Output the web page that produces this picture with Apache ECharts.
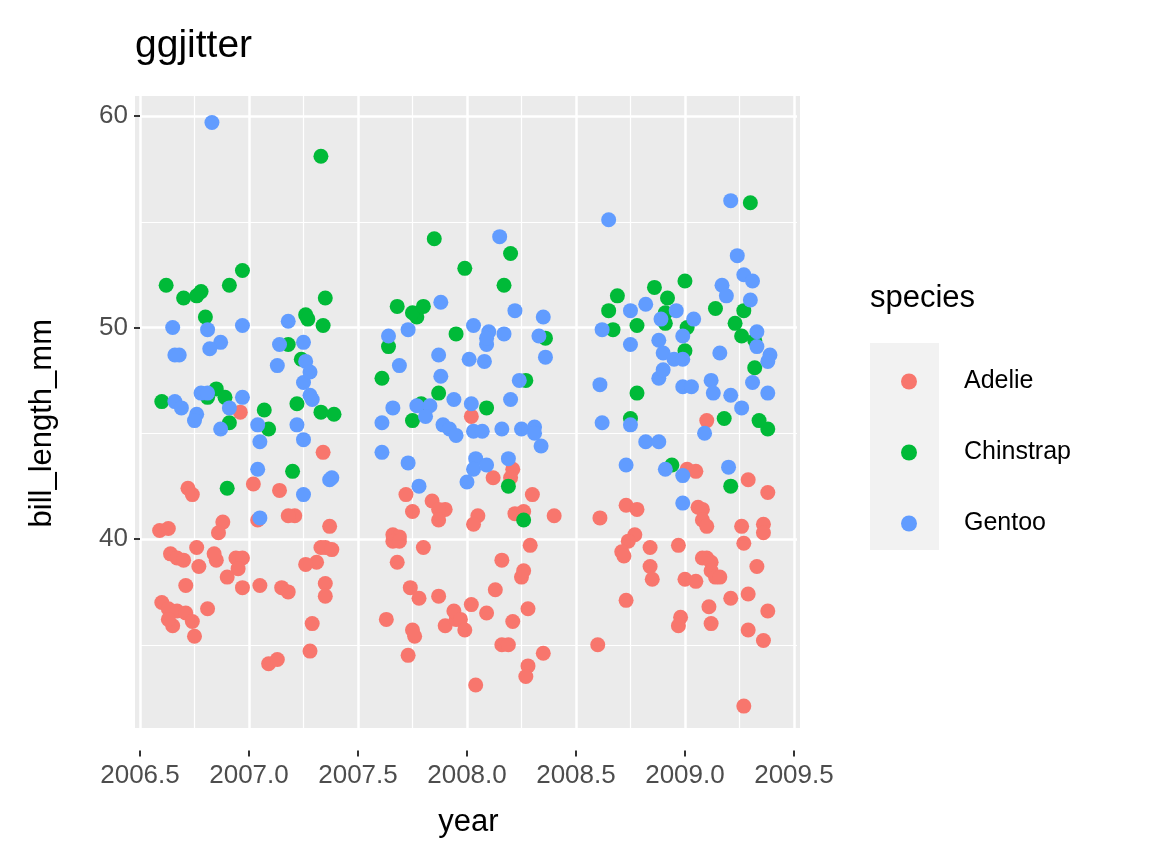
<!DOCTYPE html>
<html><head><meta charset="utf-8">
<script src="https://cdn.jsdelivr.net/npm/echarts@6/dist/echarts.min.js"></script>
<style>html,body{margin:0;background:#fff}#c{width:1152px;height:864px}</style>
</head><body><div id="c"></div>
<script>
const species = ["Adelie", "Chinstrap", "Gentoo"];
const colors = ["#F8766D", "#00BA38", "#619CFF"];
const xTicks = [2006.5, 2007.0, 2007.5, 2008.0, 2008.5, 2009.0, 2009.5];
const yTicks = [40, 50, 60];

const adelie = [
[2007.34,44.1],[2006.72,42.4],[2006.74,42.1],[2007.02,42.6],[2007.14,42.3],[2006.59,40.4],[2006.63,40.5],
[2007.04,40.9],[2006.88,40.8],[2006.86,40.3],[2006.96,46.0],[2007.37,40.6],[2006.64,39.3],[2006.67,39.1],
[2006.76,39.6],[2006.70,39.0],[2006.85,39.0],[2006.84,39.3],[2006.94,39.1],[2006.97,39.1],[2006.77,38.7],
[2006.95,38.6],[2006.90,38.2],[2006.97,37.7],[2007.05,37.8],[2007.15,37.7],[2007.18,37.5],[2007.33,39.6],
[2007.35,39.6],[2007.38,39.5],[2007.31,38.9],[2007.35,37.9],[2007.35,37.3],[2006.71,37.8],[2006.60,37.0],
[2006.63,36.7],[2006.67,36.6],[2006.71,36.5],[2006.81,36.7],[2006.74,36.1],[2006.75,35.4],[2006.65,35.9],
[2006.63,36.2],[2007.29,36.0],[2007.28,34.7],[2007.09,34.1],[2007.13,34.3],[2007.21,41.1],[2007.18,41.1],
[2007.26,38.8],
[2008.02,45.8],[2008.21,43.3],[2008.20,42.9],[2008.12,42.9],[2008.30,42.1],[2008.40,41.1],[2008.22,41.2],
[2008.26,41.3],[2007.72,42.1],[2007.84,41.8],[2007.75,41.3],[2007.90,41.4],[2007.87,41.4],[2007.87,40.9],
[2008.05,41.1],[2008.03,40.7],[2007.66,40.2],[2007.69,40.1],[2007.66,39.9],[2007.69,39.9],[2007.80,39.6],
[2007.68,38.9],[2008.29,39.7],[2008.16,39.0],[2007.74,37.7],[2007.78,37.2],[2007.87,37.3],[2008.13,37.6],
[2008.25,38.2],[2008.26,38.5],[2007.63,36.2],[2007.75,35.7],[2007.76,35.4],[2007.90,35.9],[2007.95,36.2],
[2007.94,36.6],[2007.97,36.2],[2007.99,35.7],[2008.02,36.9],[2008.09,36.5],[2008.21,36.1],[2008.28,36.7],
[2008.16,35.0],[2008.19,35.0],[2007.73,34.5],[2008.35,34.6],[2008.28,34.0],[2008.27,33.5],[2008.04,33.1],
[2009.10,45.6],[2009.01,43.3],[2009.05,43.2],[2009.29,42.8],[2009.38,42.2],[2008.73,41.6],[2008.78,41.4],
[2008.61,41.0],[2009.06,41.5],[2009.08,41.4],[2009.08,40.9],[2009.10,40.6],[2009.26,40.6],[2009.36,40.7],
[2009.36,40.3],[2008.77,40.2],[2008.74,39.9],[2008.71,39.4],[2008.72,39.2],[2008.84,39.6],[2008.97,39.7],
[2009.10,39.1],[2009.08,39.1],[2009.12,38.9],[2009.12,38.5],[2009.14,38.2],[2009.16,38.2],[2009.21,37.2],
[2009.27,39.8],[2009.33,38.7],[2008.84,38.7],[2008.85,38.1],[2009.00,38.1],[2009.05,38.0],[2008.73,37.1],
[2009.11,36.8],[2009.29,37.4],[2009.38,36.6],[2008.98,36.3],[2008.97,35.9],[2009.12,36.0],[2009.29,35.7],
[2009.36,35.2],[2008.60,35.0],[2009.27,32.1]
];
const chinstrap = [
[2007.33,58.1],[2006.62,52.0],[2006.70,51.4],[2006.76,51.5],[2006.78,51.7],[2006.97,52.7],[2006.91,52.0],
[2007.35,51.4],[2007.26,50.6],[2007.27,50.4],[2007.34,50.1],[2006.80,50.5],[2007.18,49.2],[2007.24,48.5],
[2006.60,46.5],[2006.85,47.1],[2006.81,46.7],[2006.89,46.7],[2007.07,46.1],[2006.91,45.5],[2007.22,46.4],
[2007.39,45.9],[2007.33,46.0],[2007.09,45.2],[2007.20,43.2],[2006.90,42.4],
[2007.85,54.2],[2007.99,52.8],[2008.20,53.5],[2008.17,52.0],[2007.68,51.0],[2007.77,50.5],[2007.75,50.7],
[2007.80,51.0],[2007.95,49.7],[2007.64,49.1],[2008.36,49.5],[2007.61,47.6],[2008.27,47.5],[2007.87,46.9],
[2007.79,46.4],[2008.09,46.2],[2007.75,45.6],[2008.19,42.5],[2008.26,40.9],
[2009.30,55.9],[2009.00,52.2],[2008.86,51.9],[2008.69,51.5],[2008.92,51.4],[2008.65,50.8],[2008.67,49.9],
[2008.78,50.1],[2009.14,50.9],[2008.91,50.7],[2008.91,50.2],[2009.01,50.0],[2009.27,50.8],[2009.23,50.2],
[2009.26,49.6],[2009.32,49.4],[2009.00,48.9],[2009.32,48.1],[2008.78,46.9],[2008.75,45.7],[2009.18,45.7],
[2009.34,45.6],[2009.38,45.2],[2008.94,43.5],[2009.21,42.5]
];
const gentoo = [
[2006.83,59.7],[2006.65,50.0],[2006.68,48.7],[2006.66,48.7],[2006.87,49.3],[2006.82,49.0],[2006.81,49.9],
[2006.97,50.1],[2007.18,50.3],[2007.14,49.2],[2007.13,48.2],[2007.25,49.3],[2007.26,48.4],[2007.25,47.4],
[2007.28,47.9],[2007.28,46.8],[2007.29,46.6],[2006.66,46.5],[2006.69,46.2],[2006.78,46.9],[2006.81,46.9],
[2006.76,45.9],[2006.75,45.6],[2006.97,46.7],[2006.91,46.2],[2007.04,45.4],[2007.22,45.4],[2006.87,45.2],
[2007.05,44.6],[2007.04,43.3],[2007.25,44.7],[2007.38,42.9],[2007.37,42.8],[2007.25,42.1],[2007.05,41.0],
[2008.15,54.3],[2007.88,51.2],[2008.22,50.8],[2008.35,50.5],[2007.64,49.6],[2007.73,49.9],[2008.03,50.1],
[2008.10,49.8],[2008.17,49.7],[2008.09,49.2],[2008.09,49.5],[2008.33,49.6],[2008.36,48.6],[2007.69,48.2],
[2007.87,48.7],[2008.01,48.5],[2008.08,48.4],[2008.24,47.5],[2007.88,47.7],[2008.20,46.6],[2007.66,46.2],
[2007.77,46.3],[2007.83,46.3],[2007.94,46.6],[2008.02,46.4],[2007.61,45.5],[2007.81,45.8],[2007.89,45.4],
[2007.92,45.2],[2007.95,44.9],[2008.03,45.1],[2008.07,45.1],[2008.16,45.2],[2008.25,45.2],[2008.31,45.3],
[2008.31,45.0],[2008.34,44.4],[2007.61,44.1],[2007.73,43.6],[2008.04,43.8],[2008.03,43.3],[2008.00,42.7],
[2008.09,43.5],[2008.19,43.8],[2007.78,42.5],
[2008.65,55.1],[2009.21,56.0],[2009.24,53.4],[2009.27,52.5],[2009.31,52.2],[2009.17,52.0],[2009.19,51.5],
[2009.30,51.3],[2008.82,51.1],[2008.75,50.8],[2008.89,50.4],[2008.96,50.8],[2009.04,50.4],[2008.62,49.9],
[2008.88,49.4],[2008.75,49.2],[2008.99,49.6],[2009.16,48.8],[2009.33,49.8],[2009.33,49.1],[2009.39,48.7],
[2009.38,48.4],[2008.90,48.8],[2008.95,48.5],[2008.99,48.5],[2008.88,47.6],[2008.90,48.0],[2008.99,47.2],
[2009.03,47.2],[2009.12,47.5],[2009.13,46.9],[2009.21,46.8],[2009.31,47.4],[2009.38,46.9],[2009.26,46.2],
[2008.61,47.3],[2008.75,45.4],[2008.62,45.5],[2008.82,44.6],[2008.88,44.6],[2008.91,43.3],[2009.09,45.0],
[2008.73,43.5],[2009.20,43.4],[2008.99,43.0],[2008.99,41.7]
];
const seriesData = [adelie, chinstrap, gentoo];

const chart = echarts.init(document.getElementById('c'));
const tickText = {color:'#4D4D4D', fontSize:26, fontFamily:'Liberation Sans, Arial'};
chart.setOption({
  animation:false,
  backgroundColor:'#fff',
  title:{text:'ggjitter', left:130, top:22, textStyle:{fontSize:39, fontWeight:'normal', color:'#000', fontFamily:'Liberation Sans, Arial'}},
  graphic:[
    {type:'rect', z:-10, shape:{x:135,y:96,width:665,height:632}, style:{fill:'#EBEBEB'}},
    {type:'rect', z:-10, shape:{x:870,y:343,width:69,height:207}, style:{fill:'#F2F2F2'}},
    {type:'text', left:870, top:283, style:{text:'species', fontSize:31, fill:'#000', fontFamily:'Liberation Sans, Arial'}}
  ],
  grid:{left:140, right:355, top:96, bottom:113.5, containLabel:false},
  xAxis:{type:'value', min:2006.5, max:2009.514, interval:0.5,
    name:'year', nameLocation:'middle', nameGap:56, nameTextStyle:{fontSize:31,color:'#000',fontFamily:'Liberation Sans, Arial'},
    axisLine:{show:false},
    axisTick:{show:true, customValues:xTicks, length:6, lineStyle:{color:'#333', width:2}},
    axisLabel:{customValues:xTicks, formatter:v=>v.toFixed(1), margin:12, ...tickText},
    splitLine:{show:true, lineStyle:{color:'#fff', width:2.5}},
    minorTick:{show:false, splitNumber:2},
    minorSplitLine:{show:true, lineStyle:{color:'#fff', width:1.2}}
  },
  yAxis:{type:'value', min:30, max:60.95, interval:10,
    name:'bill_length_mm', nameLocation:'middle', nameGap:82, nameTextStyle:{fontSize:31,color:'#000',fontFamily:'Liberation Sans, Arial'},
    axisLine:{show:false},
    axisTick:{show:true, customValues:yTicks, length:6, lineStyle:{color:'#333', width:2}},
    axisLabel:{customValues:yTicks, margin:12, ...tickText},
    splitLine:{show:true, lineStyle:{color:'#fff', width:2.5}},
    minorTick:{show:false, splitNumber:2},
    minorSplitLine:{show:true, lineStyle:{color:'#fff', width:1.2}}
  },
  legend:{orient:'vertical', left:896, top:364, itemWidth:16, itemHeight:16, itemGap:46,
    data:species.map(s=>({name:s, icon:'circle'})),
    textStyle:{fontSize:25, color:'#000', fontFamily:'Liberation Sans, Arial', padding:[0,0,0,42]}},
  series:species.map((s,i)=>({
    name:s, type:'scatter', data:seriesData[i], symbolSize:15, clip:false,
    itemStyle:{color:colors[i], opacity:1}
  }))
});
</script></body></html>
